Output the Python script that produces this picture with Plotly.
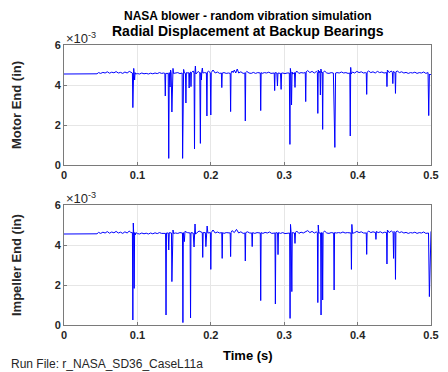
import plotly.graph_objects as go

# Time (s) and radial displacement (units of 1e-3 in)
motor_time = [
    0.000, 0.010, 0.020, 0.030, 0.040, 0.045, 0.047, 0.050,
    0.053, 0.056, 0.059, 0.062, 0.065, 0.068, 0.071, 0.074,
    0.077, 0.080, 0.083, 0.086, 0.089, 0.091, 0.0932, 0.0938,
    0.0944, 0.0950, 0.0956, 0.0962, 0.0968, 0.0975, 0.100, 0.103,
    0.106, 0.109, 0.112, 0.115, 0.118, 0.121, 0.124, 0.127,
    0.130, 0.133, 0.136, 0.1374, 0.1380, 0.1386, 0.1420, 0.1427,
    0.1434, 0.1445, 0.1452, 0.1460, 0.1470, 0.1477, 0.1485, 0.1492,
    0.152, 0.155, 0.158, 0.1610, 0.1616, 0.1622, 0.1630, 0.1640,
    0.1655, 0.1661, 0.1667, 0.1690, 0.1700, 0.1705, 0.1711, 0.1725,
    0.1730, 0.1736, 0.1760, 0.1772, 0.1778, 0.1784, 0.1790, 0.1797,
    0.1810, 0.1830, 0.1850, 0.1858, 0.1864, 0.1872, 0.1878, 0.1885,
    0.1892, 0.1915, 0.1940, 0.1947, 0.1953, 0.1970, 0.1993, 0.2000,
    0.2006, 0.203, 0.206, 0.209, 0.212, 0.2144, 0.2150, 0.2156,
    0.218, 0.221, 0.224, 0.2264, 0.2270, 0.2276, 0.229, 0.2305,
    0.232, 0.234, 0.236, 0.238, 0.241, 0.244, 0.2464, 0.2470,
    0.2476, 0.249, 0.252, 0.255, 0.258, 0.261, 0.264, 0.2674,
    0.2680, 0.2686, 0.270, 0.273, 0.276, 0.279, 0.282, 0.285,
    0.2864, 0.2870, 0.2876, 0.2900, 0.2908, 0.2915, 0.2950, 0.2958,
    0.2965, 0.298, 0.301, 0.304, 0.3070, 0.3078, 0.3084, 0.3092,
    0.3100, 0.3107, 0.3115, 0.3140, 0.3147, 0.3154, 0.317, 0.320,
    0.323, 0.326, 0.3287, 0.3293, 0.3299, 0.332, 0.335, 0.338,
    0.341, 0.344, 0.3452, 0.3458, 0.3464, 0.3475, 0.3487, 0.3493,
    0.3500, 0.3510, 0.3518, 0.3524, 0.3530, 0.355, 0.358, 0.361,
    0.364, 0.3670, 0.3690, 0.3700, 0.372, 0.375, 0.378, 0.381,
    0.384, 0.387, 0.3894, 0.3900, 0.3906, 0.3912, 0.393, 0.396,
    0.399, 0.402, 0.405, 0.408, 0.411, 0.4118, 0.4124, 0.4130,
    0.415, 0.418, 0.421, 0.424, 0.427, 0.430, 0.433, 0.436,
    0.4395, 0.4400, 0.4406, 0.443, 0.446, 0.4474, 0.4480, 0.4486,
    0.4510, 0.4516, 0.4522, 0.454, 0.457, 0.460, 0.463, 0.466,
    0.469, 0.472, 0.475, 0.478, 0.481, 0.484, 0.487, 0.490,
    0.493, 0.4960, 0.4969, 0.4978, 0.4990, 0.5000,
]
motor_disp = [
    4.55, 4.55, 4.54, 4.55, 4.55, 4.56, 4.62, 4.58,
    4.63, 4.60, 4.66, 4.59, 4.64, 4.61, 4.67, 4.60,
    4.63, 4.58, 4.65, 4.60, 4.68, 4.62, 4.60, 2.87,
    4.62, 4.83, 4.55, 4.25, 4.62, 4.55, 4.57, 4.55,
    4.60, 4.56, 4.58, 4.55, 4.59, 4.56, 4.60, 4.57,
    4.62, 4.58, 4.60, 4.58, 3.45, 4.58, 4.58, 0.33,
    4.62, 3.90, 4.75, 4.62, 2.65, 4.60, 4.83, 4.58,
    4.60, 4.62, 4.57, 4.60, 0.33, 4.62, 4.78, 4.60,
    4.58, 3.10, 4.62, 4.60, 4.62, 3.85, 4.60, 4.65,
    3.92, 4.62, 4.70, 4.60, 0.80, 4.65, 4.95, 4.55,
    4.62, 4.68, 4.60, 1.08, 4.62, 4.25, 4.70, 4.85,
    4.60, 4.62, 4.60, 2.45, 4.65, 4.70, 4.60, 2.50,
    4.62, 4.75, 4.60, 4.65, 4.58, 4.60, 3.87, 4.60,
    4.62, 4.58, 4.60, 4.58, 2.67, 4.60, 4.70, 4.62,
    4.75, 4.60, 4.80, 4.60, 4.66, 4.58, 4.60, 2.20,
    4.62, 4.68, 4.60, 4.58, 4.63, 4.58, 4.62, 4.60,
    2.72, 4.62, 4.58, 4.62, 4.60, 4.64, 4.58, 4.62,
    4.60, 3.72, 4.62, 4.60, 3.95, 4.60, 4.58, 3.78,
    4.60, 4.60, 4.57, 4.60, 4.60, 1.03, 4.83, 4.60,
    3.00, 4.65, 4.55, 4.62, 3.88, 4.60, 4.70, 4.58,
    4.62, 4.60, 4.62, 3.17, 4.66, 4.72, 4.62, 4.68,
    4.60, 4.68, 4.62, 2.58, 4.75, 4.60, 4.70, 3.50,
    4.80, 4.62, 4.65, 1.78, 4.62, 4.70, 4.60, 4.58,
    4.62, 4.60, 0.88, 4.60, 4.62, 4.60, 4.65, 4.60,
    4.62, 4.58, 4.60, 1.45, 4.88, 4.55, 4.65, 4.60,
    4.68, 4.62, 4.66, 4.60, 4.62, 4.60, 3.53, 4.65,
    4.70, 4.62, 4.66, 4.60, 4.68, 4.62, 4.65, 4.60,
    4.62, 3.92, 4.75, 4.62, 4.70, 4.62, 4.07, 4.68,
    4.62, 3.58, 4.66, 4.70, 4.62, 4.66, 4.60, 4.63,
    4.58, 4.62, 4.60, 4.64, 4.58, 4.62, 4.60, 4.65,
    4.58, 4.62, 2.47, 4.55, 4.50, 4.55,
]

impeller_time = [
    0.000, 0.010, 0.020, 0.030, 0.040, 0.045, 0.047, 0.050,
    0.053, 0.056, 0.059, 0.062, 0.065, 0.068, 0.071, 0.074,
    0.077, 0.080, 0.083, 0.086, 0.089, 0.091, 0.0932, 0.0938,
    0.0944, 0.0950, 0.0956, 0.0962, 0.0970, 0.0980, 0.100, 0.103,
    0.106, 0.109, 0.112, 0.115, 0.118, 0.121, 0.124, 0.127,
    0.130, 0.133, 0.136, 0.1384, 0.1390, 0.1396, 0.1420, 0.1427,
    0.1434, 0.1464, 0.1470, 0.1476, 0.1485, 0.1492, 0.152, 0.155,
    0.158, 0.1614, 0.1620, 0.1626, 0.1640, 0.1648, 0.168, 0.1718,
    0.1724, 0.1730, 0.1760, 0.1772, 0.1778, 0.1785, 0.1792, 0.181,
    0.184, 0.1884, 0.1890, 0.1896, 0.1926, 0.1933, 0.1940, 0.1950,
    0.1960, 0.1994, 0.2000, 0.2006, 0.203, 0.206, 0.209, 0.212,
    0.2149, 0.2155, 0.2161, 0.218, 0.221, 0.224, 0.2264, 0.2270,
    0.2276, 0.229, 0.232, 0.235, 0.238, 0.241, 0.244, 0.2464,
    0.2470, 0.2476, 0.250, 0.253, 0.2558, 0.2564, 0.2570, 0.260,
    0.263, 0.2674, 0.2680, 0.2686, 0.271, 0.274, 0.277, 0.280,
    0.283, 0.2874, 0.2880, 0.2886, 0.2910, 0.2916, 0.2922, 0.295,
    0.298, 0.301, 0.304, 0.3074, 0.3080, 0.3086, 0.3094, 0.3104,
    0.3110, 0.3140, 0.3147, 0.3154, 0.317, 0.320, 0.323, 0.326,
    0.329, 0.332, 0.335, 0.338, 0.341, 0.344, 0.3452, 0.3458,
    0.3464, 0.3472, 0.3496, 0.3502, 0.3508, 0.3518, 0.3524, 0.3530,
    0.355, 0.358, 0.361, 0.364, 0.3674, 0.3680, 0.3686, 0.371,
    0.374, 0.377, 0.380, 0.383, 0.386, 0.3910, 0.3916, 0.3922,
    0.3930, 0.396, 0.399, 0.402, 0.405, 0.408, 0.4118, 0.4124,
    0.4130, 0.415, 0.418, 0.421, 0.4244, 0.4250, 0.4256, 0.428,
    0.431, 0.434, 0.437, 0.4394, 0.4400, 0.4406, 0.443, 0.446,
    0.4484, 0.4490, 0.4496, 0.4510, 0.4516, 0.4522, 0.454, 0.457,
    0.460, 0.463, 0.466, 0.469, 0.472, 0.475, 0.478, 0.481,
    0.484, 0.487, 0.490, 0.493, 0.4966, 0.4978, 0.4990, 0.5000,
]
impeller_disp = [
    4.55, 4.55, 4.54, 4.55, 4.55, 4.56, 4.63, 4.58,
    4.64, 4.60, 4.67, 4.59, 4.65, 4.61, 4.68, 4.60,
    4.64, 4.58, 4.66, 4.60, 4.70, 4.62, 4.62, 0.25,
    5.10, 4.55, 1.83, 4.62, 4.50, 4.62, 4.57, 4.55,
    4.60, 4.56, 4.59, 4.55, 4.60, 4.56, 4.61, 4.57,
    4.62, 4.58, 4.60, 4.58, 0.50, 4.60, 4.60, 3.75,
    4.62, 4.60, 2.17, 4.62, 4.75, 4.58, 4.60, 4.58,
    4.62, 4.60, 0.12, 4.62, 4.17, 4.68, 4.62, 4.60,
    0.35, 4.62, 4.60, 3.90, 4.65, 5.05, 4.55, 4.62,
    4.70, 4.62, 3.38, 4.62, 4.62, 3.92, 4.65, 4.95,
    4.60, 4.62, 2.78, 4.62, 4.75, 4.60, 4.65, 4.60,
    4.62, 3.33, 4.62, 4.58, 4.62, 4.60, 4.60, 3.42,
    4.62, 4.72, 4.62, 4.78, 4.60, 4.66, 4.58, 4.60,
    3.20, 4.62, 4.66, 4.60, 4.60, 3.92, 4.62, 4.58,
    4.62, 4.60, 1.22, 4.62, 4.58, 4.63, 4.60, 4.65,
    4.58, 4.60, 1.05, 4.62, 4.60, 3.52, 4.62, 4.58,
    4.62, 4.57, 4.60, 4.60, 0.33, 5.03, 4.60, 1.67,
    4.62, 4.60, 4.08, 4.62, 4.70, 4.58, 4.64, 4.60,
    4.66, 4.72, 4.62, 4.68, 4.60, 4.66, 4.60, 1.12,
    5.00, 4.60, 4.60, 0.50, 4.62, 4.60, 1.25, 4.62,
    4.70, 4.60, 4.58, 4.62, 4.60, 1.75, 4.62, 4.60,
    4.62, 4.60, 4.65, 4.60, 4.62, 4.60, 2.78, 5.03,
    4.58, 4.62, 4.68, 4.62, 4.66, 4.60, 4.60, 3.53,
    4.62, 4.70, 4.62, 4.66, 4.62, 4.28, 4.68, 4.62,
    4.66, 4.60, 4.64, 4.62, 3.05, 4.75, 4.62, 4.70,
    4.62, 3.33, 4.68, 4.62, 2.28, 4.66, 4.70, 4.62,
    4.66, 4.60, 4.63, 4.58, 4.62, 4.60, 4.64, 4.58,
    4.62, 4.60, 4.65, 4.58, 4.60, 1.42, 4.62, 4.68,
]

x_ticks = [0, 0.1, 0.2, 0.3, 0.4, 0.5]
x_tick_labels = ["0", "0.1", "0.2", "0.3", "0.4", "0.5"]
y_ticks = [0, 2, 4, 6]
y_tick_labels = ["0", "2", "4", "6"]

FONT = "Liberation Sans, Arial, Helvetica, sans-serif"
AX_COL = "#7a7a7a"
GRID_COL = "#e6e6e6"

fig = go.Figure()
fig.add_trace(go.Scatter(x=motor_time, y=motor_disp, mode="lines",
                         line=dict(color="#0000ff", width=1), xaxis="x", yaxis="y",
                         showlegend=False))
fig.add_trace(go.Scatter(x=impeller_time, y=impeller_disp, mode="lines",
                         line=dict(color="#0000ff", width=1), xaxis="x2", yaxis="y2",
                         showlegend=False))

def xax(anchor):
    return dict(range=[0, 0.5], tickvals=x_ticks, ticktext=x_tick_labels,
                showgrid=True, gridcolor=GRID_COL, zeroline=False,
                showline=True, mirror=True, linecolor=AX_COL, linewidth=1,
                ticks="inside", ticklen=3, tickcolor=AX_COL,
                tickfont=dict(family=FONT, size=11, color="#262626", weight="bold"),
                anchor=anchor, domain=[0, 1])

def yax(domain, anchor):
    return dict(range=[0, 6], tickvals=y_ticks, ticktext=y_tick_labels,
                showgrid=True, gridcolor=GRID_COL, zeroline=False,
                showline=True, mirror=True, linecolor=AX_COL, linewidth=1,
                ticks="inside", ticklen=3, tickcolor=AX_COL,
                tickfont=dict(family=FONT, size=11, color="#262626", weight="bold"),
                anchor=anchor, domain=domain)

top_dom = [160 / 280, 1.0]
bot_dom = [0.0, 120 / 280]

# the page body adds an 8px margin, so the figure is sized to fit the window
fig.update_layout(
    width=440, height=364,
    margin=dict(l=56, r=9, t=37, b=47),
    paper_bgcolor="white", plot_bgcolor="white",
    font=dict(family=FONT, color="#262626"),
    xaxis=xax("y"), yaxis=yax(top_dom, "x"),
    xaxis2=xax("y2"), yaxis2=yax(bot_dom, "x2"),
)

def py(pix):
    return (325 - pix) / 280

def px(pix):
    return (pix - 64) / 375

annots = [
    dict(text="<b>NASA blower - random vibration simulation</b>", x=px(251.5), y=py(16), size=12),
    dict(text="<b>Radial Displacement at Backup Bearings</b>", x=px(251.5), y=py(31), size=14),
    dict(text="<b>Time (s)</b>", x=px(251.5), y=py(355), size=13),
]
for a in annots:
    fig.add_annotation(text=a["text"], x=a["x"], y=a["y"], xref="paper", yref="paper",
                       xanchor="center", yanchor="middle", showarrow=False,
                       font=dict(family=FONT, size=a["size"], color="#000000"))

for ypix in (38, 198):
    fig.add_annotation(text="×10<sup>-3</sup>", x=px(64), y=py(ypix), xref="paper", yref="paper",
                       xanchor="left", yanchor="middle", showarrow=False,
                       font=dict(family=FONT, size=13, color="#262626"))

for label, ycen in (("Motor End (in)", 105), ("Impeller End (in)", 265)):
    fig.add_annotation(text="<b>" + label + "</b>", x=px(15), y=py(ycen), xref="paper", yref="paper",
                       xanchor="center", yanchor="middle", textangle=-90, showarrow=False,
                       font=dict(family=FONT, size=13, color="#262626"))

fig.add_annotation(text="Run File: r_NASA_SD36_CaseL11a", x=px(8), y=py(364), xref="paper", yref="paper",
                   xanchor="left", yanchor="middle", showarrow=False,
                   font=dict(family=FONT, size=12, color="#262626"))

fig.write_html("out.html")
